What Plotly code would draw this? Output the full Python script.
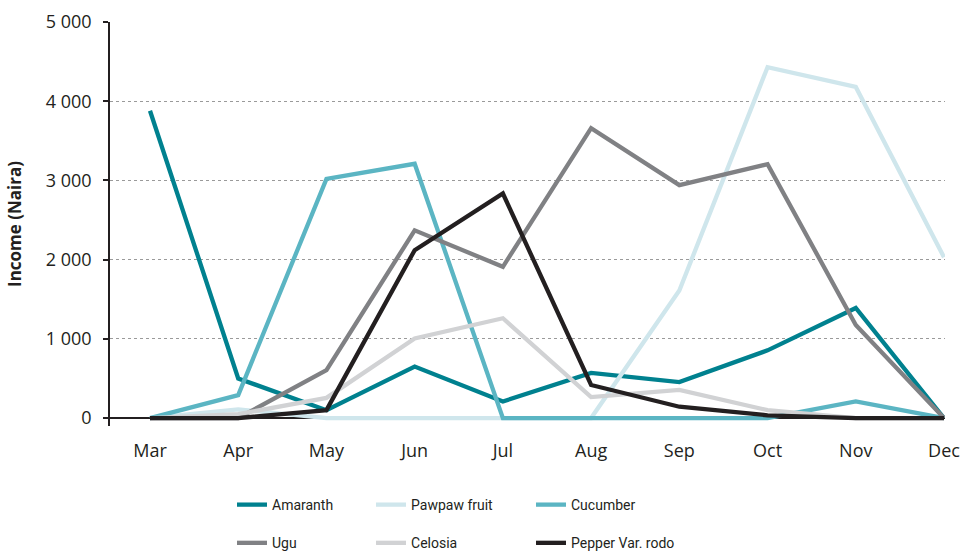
import plotly.graph_objects as go

months = ["Mar", "Apr", "May", "Jun", "Jul", "Aug", "Sep", "Oct", "Nov", "Dec"]

amaranth = [3880, 500, 100, 650, 210, 570, 455, 855, 1390, 0]
pawpaw = [0, 110, 0, 0, 0, 0, 1610, 4430, 4180, 2030]
cucumber = [0, 290, 3020, 3210, 0, 0, 0, 0, 210, 0]
ugu = [0, 0, 605, 2370, 1910, 3660, 2940, 3205, 1175, 0]
celosia = [0, 50, 255, 1005, 1260, 265, 355, 100, 0, 0]
pepper = [0, 0, 100, 2120, 2835, 418, 143, 35, 0, 0]

y_ticks = [0, 1000, 2000, 3000, 4000, 5000]

series = [
    ("Amaranth", amaranth, "#00818F", "legend"),
    ("Pawpaw fruit", pawpaw, "#CFE6EC", "legend2"),
    ("Cucumber", cucumber, "#5BB5C3", "legend3"),
    ("Ugu", ugu, "#808184", "legend"),
    ("Celosia", celosia, "#D1D2D4", "legend2"),
    ("Pepper Var. rodo", pepper, "#231F20", "legend3"),
]

fig = go.Figure()
for name, vals, color, lg in series:
    fig.add_trace(go.Scatter(
        x=months, y=vals, name=name, mode="lines",
        line=dict(color=color, width=4.3),
        legend=lg, legendgroup=name,
    ))

tick_font = "Open Sans, sans-serif"
legend_font = "Roboto, sans-serif"
legend_common = dict(
    orientation="v", xanchor="left", yanchor="top",
    font=dict(family=legend_font, size=14, color="#231F20"),
    tracegroupgap=17, bgcolor="rgba(0,0,0,0)",
)

fig.update_layout(
    width=965, height=551,
    margin=dict(l=110, r=20, t=22, b=125, autoexpand=False),
    paper_bgcolor="white", plot_bgcolor="white",
    separators=". ",
    font=dict(family=tick_font, size=18, color="#231F20"),
    legend=dict(x=0.1461, y=-0.156, **legend_common),
    legend2=dict(x=0.3126, y=-0.156, **legend_common),
    legend3=dict(x=0.5042, y=-0.156, **legend_common),
    xaxis=dict(
        type="category", range=[-0.4534, 9.0113], automargin=False,
        showgrid=False, showline=False, zeroline=False,
        ticks="", tickfont=dict(size=18), ticklabelstandoff=12,
    ),
    yaxis=dict(
        range=[-100, 5000], tickvals=y_ticks, tickformat=",d", automargin=False,
        showgrid=True, gridcolor="#9A9A9A", griddash="dot", gridwidth=1,
        zeroline=True, zerolinecolor="#231F20", zerolinewidth=2,
        showline=True, linecolor="#231F20", linewidth=1.5,
        ticks="outside", ticklen=5, tickcolor="#231F20", tickwidth=1.5,
        ticklabelstandoff=8,
        tickfont=dict(size=18),
        title=dict(text="<b>Income (Naira)</b>", font=dict(family=tick_font, size=17), standoff=20),
    ),
)

fig.write_html(
    "out.html",
    config={"displayModeBar": False},
    post_script="document.body.style.margin='0px';",
)
